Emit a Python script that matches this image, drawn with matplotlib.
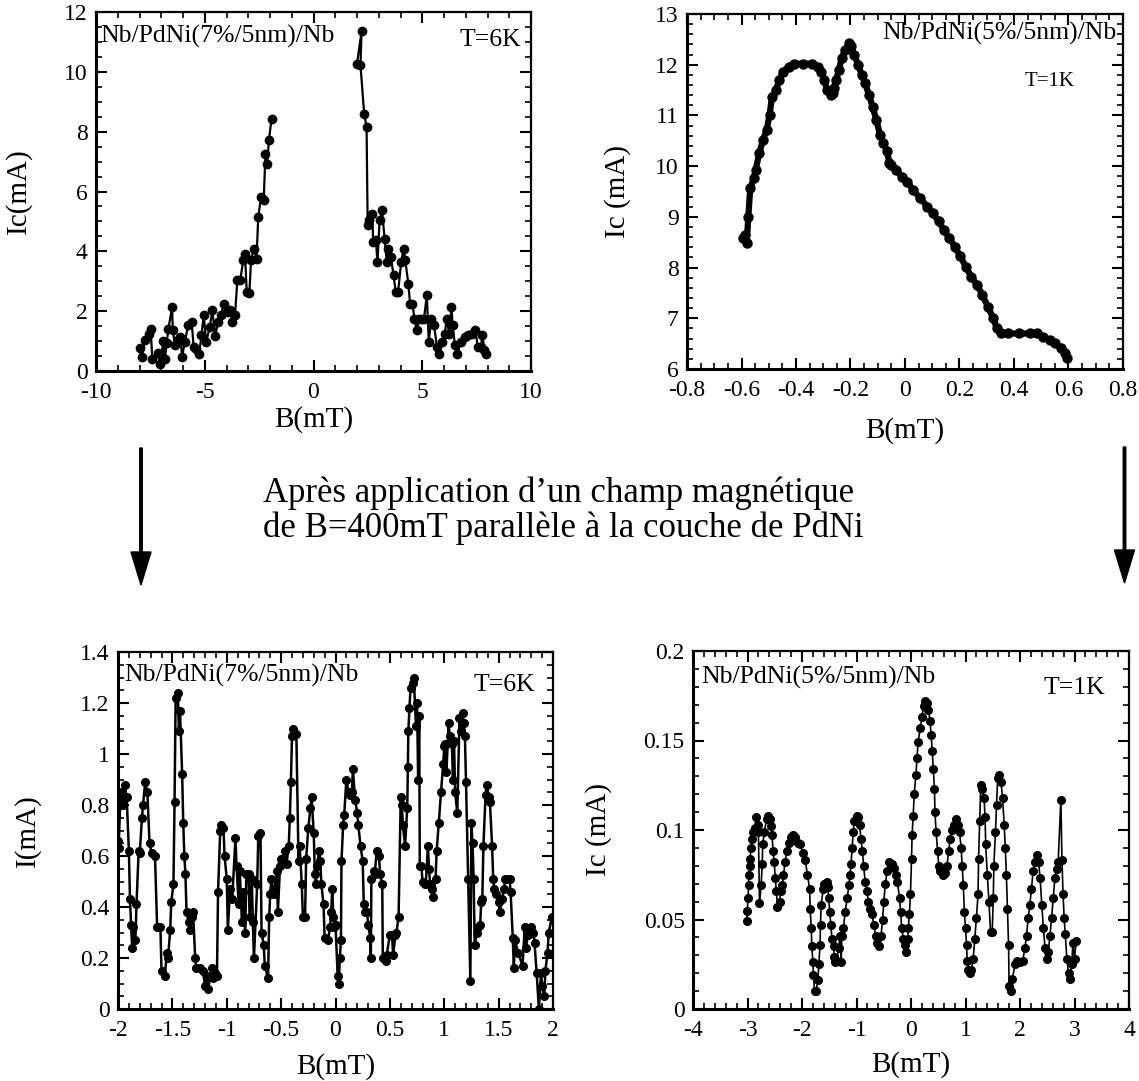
import matplotlib
matplotlib.use('Agg')
from matplotlib import pyplot as plt
from matplotlib.patches import FancyArrow
from matplotlib.ticker import MultipleLocator, FuncFormatter

plt.rcParams['font.family'] = ['Liberation Serif', 'DejaVu Serif']
plt.rcParams['axes.unicode_minus'] = False

# --- panel 1 : Nb/PdNi(7%/5nm)/Nb, T=6K, before ---
B1_neg = [-7.99, -7.9, -7.74, -7.57, -7.49, -7.41, -7.16, -7.05, -7.0, -6.9,
          -6.83, -6.75, -6.67, -6.5, -6.47, -6.37, -6.25, -6.12, -6.04, -5.92,
          -5.76, -5.6, -5.51, -5.38, -5.26, -5.15, -5.05, -4.93, -4.77, -4.65,
          -4.52, -4.39, -4.27, -4.11, -3.98, -3.86, -3.73, -3.61, -3.5, -3.37,
          -3.23, -3.15, -3.07, -2.95, -2.87, -2.74, -2.62, -2.54, -2.41, -2.29,
          -2.21, -2.13, -2.05, -1.93]
Ic1_neg = [0.78, 0.47, 1.05, 1.25, 1.42, 0.41, 0.6, 0.25, 0.52, 1.0,
           0.41, 0.94, 1.42, 2.14, 1.36, 0.86, 1.03, 1.14, 0.47, 0.97,
           1.53, 1.64, 0.8, 0.75, 0.58, 1.19, 1.86, 0.97, 1.47, 2.03,
           1.16, 1.64, 1.86, 2.25, 1.97, 2.03, 1.64, 1.86, 3.03, 3.03,
           3.7, 3.92, 2.64, 2.6, 3.7, 4.09, 3.75, 5.15, 5.82, 5.7,
           7.26, 6.93, 7.71, 8.43]
B1_pos = [2.0, 2.21, 2.16, 2.33, 2.44, 2.49, 2.57, 2.71, 2.74, 2.87,
          2.94, 3.04, 3.15, 3.27, 3.37, 3.43, 3.56, 3.68, 3.78, 3.89,
          4.03, 4.14, 4.22, 4.36, 4.44, 4.55, 4.64, 4.75, 4.85, 4.97,
          5.08, 5.21, 5.3, 5.41, 5.54, 5.68, 5.79, 5.91, 6.04, 6.12,
          6.24, 6.34, 6.4, 6.5, 6.62, 6.78, 6.95, 7.11, 7.28, 7.44,
          7.56, 7.69, 7.77, 7.85, 7.94]
Ic1_pos = [10.27, 11.35, 10.22, 8.6, 8.16, 4.87, 5.04, 5.26, 4.31, 4.37,
           3.64, 5.04, 5.37, 4.42, 3.64, 4.09, 3.81, 3.2, 2.64, 2.64,
           3.64, 4.09, 3.7, 2.92, 2.25, 2.25, 1.75, 1.36, 1.75, 1.75,
           1.75, 2.53, 0.97, 1.75, 1.53, 0.8, 0.58, 0.97, 1.25, 1.75,
           1.25, 2.14, 1.53, 0.86, 0.58, 0.97, 1.14, 1.19, 1.25, 1.36,
           0.8, 0.8, 1.19, 0.69, 0.58]

# --- panel 2 : Nb/PdNi(5%/5nm)/Nb, T=1K, before ---
B2 = [-0.595, -0.588, -0.581, -0.575, -0.568, -0.555, -0.548, -0.535, -0.521, -0.508,
      -0.497, -0.488, -0.474, -0.461, -0.448, -0.427, -0.407, -0.374, -0.34, -0.32,
      -0.307, -0.296, -0.286, -0.273, -0.266, -0.26, -0.253, -0.242, -0.233, -0.219,
      -0.206, -0.197, -0.186, -0.172, -0.159, -0.146, -0.132, -0.119, -0.105, -0.092,
      -0.079, -0.065, -0.058, -0.052, -0.032, -0.011, 0.009, 0.029, 0.056, 0.082,
      0.103, 0.123, 0.143, 0.163, 0.183, 0.203, 0.223, 0.243, 0.264, 0.284,
      0.304, 0.324, 0.337, 0.351, 0.377, 0.418, 0.458, 0.485, 0.505, 0.532,
      0.552, 0.572, 0.586, 0.595]
Ic2 = [8.58, 8.64, 8.48, 9.0, 9.56, 9.76, 9.93, 10.25, 10.52, 10.71,
       11.01, 11.37, 11.5, 11.7, 11.86, 11.96, 12.02, 12.02, 12.02, 11.96,
       11.86, 11.7, 11.5, 11.4, 11.44, 11.54, 11.7, 11.9, 12.13, 12.29,
       12.42, 12.36, 12.19, 12.0, 11.8, 11.63, 11.4, 11.17, 10.91, 10.62,
       10.45, 10.29, 10.06, 10.02, 9.93, 9.79, 9.69, 9.53, 9.37, 9.2,
       9.07, 8.91, 8.74, 8.58, 8.41, 8.22, 8.02, 7.82, 7.66, 7.46,
       7.23, 7.0, 6.8, 6.7, 6.7, 6.7, 6.7, 6.7, 6.64, 6.57,
       6.51, 6.41, 6.31, 6.21]

# --- panel 3 : Nb/PdNi(7%/5nm)/Nb, T=6K, after 400mT ---
B3 = [-2.0, -1.995, -1.98, -1.97, -1.95, -1.94, -1.92, -1.9, -1.89, -1.88,
      -1.87, -1.86, -1.84, -1.83, -1.81, -1.8, -1.78, -1.77, -1.75, -1.73,
      -1.71, -1.69, -1.66, -1.64, -1.61, -1.6, -1.57, -1.55, -1.54, -1.52,
      -1.51, -1.49, -1.48, -1.47, -1.45, -1.44, -1.43, -1.41, -1.4, -1.39,
      -1.38, -1.37, -1.35, -1.34, -1.32, -1.31, -1.29, -1.28, -1.25, -1.22,
      -1.2, -1.18, -1.17, -1.14, -1.13, -1.11, -1.09, -1.08, -1.06, -1.05,
      -1.03, -1.02, -1.0, -0.99, -0.97, -0.95, -0.92, -0.91, -0.89, -0.88,
      -0.86, -0.85, -0.83, -0.82, -0.8, -0.79, -0.77, -0.76, -0.75, -0.72,
      -0.71, -0.69, -0.68, -0.66, -0.65, -0.62, -0.61, -0.6, -0.59, -0.57,
      -0.56, -0.54, -0.53, -0.51, -0.5, -0.46, -0.45, -0.43, -0.42, -0.41,
      -0.4, -0.39, -0.36, -0.34, -0.33, -0.31, -0.3, -0.28, -0.27, -0.25,
      -0.23, -0.22, -0.2, -0.19, -0.18, -0.17, -0.15, -0.14, -0.13, -0.11,
      -0.1, -0.07, -0.05, -0.04, -0.03, -0.02, -0.01, 0.0, 0.02, 0.03,
      0.04, 0.05, 0.055, 0.07, 0.08, 0.1, 0.12, 0.13, 0.15, 0.16,
      0.18, 0.2, 0.21, 0.23, 0.25, 0.26, 0.27, 0.29, 0.3, 0.32,
      0.325, 0.33, 0.35, 0.36, 0.38, 0.4, 0.41, 0.43, 0.435, 0.46,
      0.47, 0.5, 0.52, 0.53, 0.55, 0.56, 0.58, 0.6, 0.61, 0.62,
      0.64, 0.66, 0.665, 0.67, 0.68, 0.69, 0.71, 0.72, 0.74, 0.75,
      0.76, 0.77, 0.775, 0.79, 0.8, 0.82, 0.83, 0.85, 0.86, 0.87,
      0.89, 0.9, 0.92, 0.93, 0.95, 0.97, 0.99, 1.0, 1.01, 1.02,
      1.04, 1.05, 1.07, 1.08, 1.09, 1.1, 1.12, 1.14, 1.15, 1.17,
      1.18, 1.19, 1.2, 1.22, 1.24, 1.25, 1.26, 1.27, 1.28, 1.3,
      1.31, 1.33, 1.34, 1.35, 1.36, 1.38, 1.39, 1.41, 1.42, 1.44,
      1.45, 1.46, 1.48, 1.5, 1.51, 1.53, 1.55, 1.56, 1.57, 1.6,
      1.61, 1.63, 1.64, 1.65, 1.68, 1.72, 1.74, 1.75, 1.77, 1.8,
      1.82, 1.83, 1.85, 1.87, 1.89, 1.9, 1.92, 1.93, 1.95, 1.96,
      1.99, 2.02]
I3 = [0.66, 0.63, 0.8, 0.85, 0.8, 0.88, 0.83, 0.62, 0.43, 0.33,
      0.24, 0.32, 0.27, 0.41, 0.62, 0.61, 0.75, 0.8, 0.89, 0.85,
      0.65, 0.61, 0.6, 0.32, 0.32, 0.15, 0.13, 0.22, 0.2, 0.31,
      0.42, 0.49, 0.81, 1.22, 1.24, 1.09, 1.17, 0.92, 0.73, 0.6,
      0.53, 0.38, 0.34, 0.31, 0.36, 0.38, 0.2, 0.16, 0.16, 0.15,
      0.09, 0.13, 0.08, 0.16, 0.12, 0.14, 0.13, 0.46, 0.7, 0.72,
      0.71, 0.6, 0.51, 0.31, 0.47, 0.43, 0.67, 0.56, 0.41, 0.54,
      0.34, 0.46, 0.3, 0.53, 0.53, 0.36, 0.51, 0.34, 0.2, 0.49,
      0.68, 0.69, 0.3, 0.25, 0.17, 0.12, 0.36, 0.45, 0.51, 0.45,
      0.47, 0.54, 0.38, 0.56, 0.59, 0.62, 0.57, 0.64, 0.75, 0.89,
      1.07, 1.1, 1.08, 0.58, 0.64, 0.49, 0.36, 0.36, 0.59, 0.71,
      0.79, 0.83, 0.69, 0.53, 0.49, 0.56, 0.62, 0.58, 0.49, 0.41,
      0.28, 0.27, 0.32, 0.38, 0.47, 0.36, 0.32, 0.33, 0.13, 0.1,
      0.2, 0.27, 0.58, 0.72, 0.76, 0.9, 0.85, 0.84, 0.85, 0.94,
      0.82, 0.77, 0.72, 0.64, 0.58, 0.41, 0.38, 0.38, 0.33, 0.28,
      0.2, 0.51, 0.54, 0.53, 0.62, 0.6, 0.53, 0.49, 0.2, 0.19,
      0.21, 0.29, 0.29, 0.21, 0.29, 0.3, 0.36, 0.83, 0.8, 0.72,
      0.64, 0.79, 0.95, 1.09, 1.18, 1.26, 1.28, 1.3, 1.11, 1.2,
      0.9, 1.15, 0.56, 0.56, 0.5, 0.49, 0.49, 0.64, 0.55, 0.49,
      0.47, 0.44, 0.51, 0.62, 0.73, 0.85, 0.96, 1.03, 1.04, 0.93,
      1.12, 1.07, 1.04, 0.9, 1.05, 0.85, 0.77, 1.14, 1.09, 1.16,
      1.12, 1.07, 0.89, 0.51, 0.11, 0.73, 0.65, 0.51, 0.25, 0.3,
      0.32, 0.33, 0.42, 0.43, 0.64, 0.84, 0.88, 0.83, 0.81, 0.64,
      0.51, 0.47, 0.45, 0.42, 0.38, 0.43, 0.47, 0.51, 0.51, 0.51,
      0.46, 0.28, 0.16, 0.27, 0.22, 0.17, 0.32, 0.24, 0.29, 0.32,
      0.3, 0.26, 0.14, 0.0, 0.14, 0.09, 0.05, 0.15, 0.22, 0.3,
      0.36, 0.34]

# --- panel 4 : Nb/PdNi(5%/5nm)/Nb, T=1K, after 400mT ---
B4 = [-3.01, -3.005, -2.99, -2.98, -2.975, -2.96, -2.95, -2.94, -2.92, -2.9,
      -2.87, -2.84, -2.81, -2.8, -2.78, -2.75, -2.73, -2.72, -2.69, -2.65,
      -2.63, -2.59, -2.57, -2.55, -2.53, -2.51, -2.49, -2.47, -2.45, -2.41,
      -2.39, -2.36, -2.34, -2.31, -2.28, -2.24, -2.21, -2.17, -2.12, -2.08,
      -2.03, -1.98, -1.94, -1.9, -1.86, -1.85, -1.83, -1.82, -1.8, -1.79,
      -1.77, -1.74, -1.71, -1.69, -1.67, -1.66, -1.65, -1.61, -1.59, -1.55,
      -1.53, -1.51, -1.49, -1.47, -1.45, -1.42, -1.41, -1.39, -1.36, -1.33,
      -1.3, -1.28, -1.27, -1.24, -1.21, -1.17, -1.14, -1.12, -1.1, -1.08,
      -1.06, -1.04, -1.0, -0.97, -0.94, -0.92, -0.89, -0.87, -0.84, -0.81,
      -0.78, -0.75, -0.72, -0.68, -0.65, -0.62, -0.59, -0.55, -0.52, -0.5,
      -0.47, -0.44, -0.41, -0.35, -0.31, -0.28, -0.25, -0.21, -0.19, -0.17,
      -0.14, -0.11, -0.09, -0.06, -0.05, -0.03, -0.01, 0.01, 0.02, 0.04,
      0.06, 0.09, 0.11, 0.13, 0.17, 0.2, 0.23, 0.26, 0.29, 0.32,
      0.35, 0.37, 0.39, 0.41, 0.43, 0.44, 0.46, 0.49, 0.51, 0.53,
      0.58, 0.63, 0.66, 0.69, 0.72, 0.75, 0.79, 0.83, 0.86, 0.89,
      0.92, 0.94, 0.96, 0.98, 1.0, 1.02, 1.03, 1.05, 1.08, 1.11,
      1.14, 1.17, 1.2, 1.23, 1.24, 1.26, 1.28, 1.31, 1.34, 1.36,
      1.37, 1.4, 1.43, 1.46, 1.49, 1.51, 1.52, 1.55, 1.57, 1.59,
      1.62, 1.65, 1.68, 1.71, 1.73, 1.75, 1.77, 1.79, 1.8, 1.83,
      1.86, 1.91, 1.95, 2.0, 2.05, 2.09, 2.12, 2.15, 2.18, 2.21,
      2.24, 2.27, 2.31, 2.34, 2.37, 2.4, 2.43, 2.46, 2.49, 2.52,
      2.55, 2.58, 2.61, 2.64, 2.67, 2.7, 2.75, 2.77, 2.79, 2.81,
      2.83, 2.86, 2.89, 2.92, 2.95, 2.97, 3.0, 3.03]
I4 = [0.049, 0.055, 0.062, 0.069, 0.075, 0.08, 0.084, 0.09, 0.095, 0.099,
      0.101, 0.107, 0.103, 0.099, 0.059, 0.069, 0.081, 0.092, 0.099, 0.106,
      0.108, 0.106, 0.102, 0.097, 0.088, 0.082, 0.073, 0.066, 0.057, 0.06,
      0.066, 0.069, 0.075, 0.082, 0.088, 0.093, 0.096, 0.097, 0.096, 0.093,
      0.092, 0.087, 0.083, 0.075, 0.067, 0.056, 0.045, 0.035, 0.026, 0.019,
      0.01, 0.01, 0.016, 0.025, 0.036, 0.047, 0.058, 0.067, 0.07, 0.071,
      0.068, 0.062, 0.054, 0.047, 0.039, 0.035, 0.029, 0.026, 0.027, 0.034,
      0.041, 0.026, 0.041, 0.045, 0.054, 0.062, 0.069, 0.075, 0.081, 0.09,
      0.099, 0.105, 0.108, 0.107, 0.103, 0.095, 0.088, 0.08, 0.071, 0.066,
      0.06, 0.056, 0.053, 0.047, 0.041, 0.037, 0.035, 0.041, 0.05, 0.06,
      0.07, 0.077, 0.082, 0.081, 0.079, 0.075, 0.071, 0.062, 0.054, 0.045,
      0.039, 0.036, 0.032, 0.039, 0.045, 0.053, 0.064, 0.084, 0.097, 0.108,
      0.12, 0.131, 0.14, 0.149, 0.157, 0.163, 0.169, 0.172, 0.171, 0.167,
      0.161, 0.153, 0.144, 0.134, 0.123, 0.11, 0.099, 0.088, 0.08, 0.077,
      0.075, 0.076, 0.08, 0.088, 0.095, 0.1, 0.103, 0.106, 0.103, 0.099,
      0.09, 0.08, 0.069, 0.054, 0.045, 0.036, 0.027, 0.022, 0.02, 0.022,
      0.028, 0.039, 0.051, 0.064, 0.084, 0.105, 0.125, 0.123, 0.118, 0.107,
      0.092, 0.075, 0.06, 0.043, 0.043, 0.062, 0.08, 0.099, 0.114, 0.129,
      0.131, 0.127, 0.118, 0.103, 0.09, 0.075, 0.056, 0.036, 0.013, 0.01,
      0.017, 0.025, 0.027, 0.026, 0.027, 0.034, 0.041, 0.051, 0.058, 0.067,
      0.077, 0.082, 0.086, 0.082, 0.073, 0.058, 0.045, 0.034, 0.028, 0.032,
      0.041, 0.051, 0.062, 0.073, 0.078, 0.082, 0.117, 0.083, 0.064, 0.051,
      0.042, 0.028, 0.02, 0.017, 0.025, 0.037, 0.028, 0.038]

W, H = 1139, 1081
fig = plt.figure(figsize=(W / 100, H / 100), dpi=100)


def box(x0, y0, x1, y1):
    # pixel box (top-left origin) -> figure fraction
    return [x0 / W, 1 - y1 / H, (x1 - x0) / W, (y1 - y0) / H]


def style(ax, xlim, ylim, xmaj, xmin, ymaj, ymin):
    ax.set_xlim(*xlim)
    ax.set_ylim(*ylim)
    ax.xaxis.set_major_locator(MultipleLocator(xmaj))
    ax.xaxis.set_minor_locator(MultipleLocator(xmin))
    ax.yaxis.set_major_locator(MultipleLocator(ymaj))
    ax.yaxis.set_minor_locator(MultipleLocator(ymin))
    fmt = FuncFormatter(lambda v, p: '%g' % round(v, 6))
    ax.xaxis.set_major_formatter(fmt)
    ax.yaxis.set_major_formatter(fmt)
    ax.tick_params(which='both', direction='in', top=True, right=True, labelsize=17)
    ax.tick_params(which='major', length=8, width=1.5)
    ax.tick_params(which='minor', length=4, width=1.2)
    ax.tick_params(axis='x', which='major', pad=8)
    ax.tick_params(axis='y', which='major', pad=6)
    for s in ['left', 'bottom']:
        ax.spines[s].set_linewidth(2.2)
    for s in ['top', 'right']:
        ax.spines[s].set_linewidth(1.6)


ax1 = fig.add_axes(box(96, 12, 531, 371))
ax1.plot(B1_neg, Ic1_neg, '-o', color='k', lw=1.6, ms=6)
ax1.plot(B1_pos, Ic1_pos, '-o', color='k', lw=1.6, ms=6)
style(ax1, (-10, 10), (0, 12), 5, 1, 2, 0.5)
ax1.set_xlabel('B(mT)', fontsize=21, va='center')
ax1.set_ylabel('Ic(mA)', fontsize=21, va='center')
ax1.xaxis.set_label_coords(0.5, -0.136)
ax1.yaxis.set_label_coords(-0.179, 0.5)
ax1.text(0.009, 0.933, 'Nb/PdNi(7%/5nm)/Nb', transform=ax1.transAxes,
         fontsize=18.5, ha='left', va='center')
ax1.text(0.977, 0.922, 'T=6K', transform=ax1.transAxes,
         fontsize=18.5, ha='right', va='center')

ax2 = fig.add_axes(box(687, 14, 1123, 369))
ax2.plot(B2, Ic2, '-o', color='k', lw=4.5, ms=6.5)
style(ax2, (-0.8, 0.8), (6, 13), 0.2, 0.05, 1, 0.2)
ax2.set_xlabel('B(mT)', fontsize=21, va='center')
ax2.set_ylabel('Ic (mA)', fontsize=21, va='center')
ax2.xaxis.set_label_coords(0.5, -0.172)
ax2.yaxis.set_label_coords(-0.16, 0.5)
ax2.text(0.986, 0.944, 'Nb/PdNi(5%/5nm)/Nb', transform=ax2.transAxes,
         fontsize=18.5, ha='right', va='center')
ax2.text(0.89, 0.811, 'T=1K', transform=ax2.transAxes,
         fontsize=15, ha='right', va='center')

ax3 = fig.add_axes(box(118, 652, 553, 1009))
ax3.plot(B3, I3, '-o', color='k', lw=1.8, ms=5.5)
style(ax3, (-2, 2), (0, 1.4), 0.5, 0.1, 0.2, 0.05)
ax3.set_xlabel('B(mT)', fontsize=21, va='center')
ax3.set_ylabel('I(mA)', fontsize=21, va='center')
ax3.xaxis.set_label_coords(0.5, -0.162)
ax3.yaxis.set_label_coords(-0.209, 0.5)
ax3.text(0.014, 0.933, 'Nb/PdNi(7%/5nm)/Nb', transform=ax3.transAxes,
         fontsize=18.5, ha='left', va='center')
ax3.text(0.959, 0.908, 'T=6K', transform=ax3.transAxes,
         fontsize=18.5, ha='right', va='center')

ax4 = fig.add_axes(box(693, 651, 1129, 1009))
ax4.plot(B4, I4, '-o', color='k', lw=1.2, ms=5.5)
style(ax4, (-4, 4), (0, 0.2), 1, 0.2, 0.05, 0.01)
ax4.set_xlabel('B(mT)', fontsize=21, va='center')
ax4.set_ylabel('Ic (mA)', fontsize=21, va='center')
ax4.xaxis.set_label_coords(0.5, -0.156)
ax4.yaxis.set_label_coords(-0.216, 0.5)
ax4.text(0.018, 0.925, 'Nb/PdNi(5%/5nm)/Nb', transform=ax4.transAxes,
         fontsize=18.5, ha='left', va='center')
ax4.text(0.945, 0.897, 'T=1K', transform=ax4.transAxes,
         fontsize=18.5, ha='right', va='center')

# middle caption and arrows
fig.text(263 / W, 1 - 502 / H, 'Après application d’un champ magnétique',
         fontsize=25, ha='left', va='baseline')
fig.text(263 / W, 1 - 537 / H, 'de B=400mT parallèle à la couche de PdNi',
         fontsize=25, ha='left', va='baseline')

for xa, ytop, ytip in [(141, 448, 585), (1124.5, 447, 583)]:
    arr = FancyArrow(xa / W, 1 - ytop / H, 0, -(ytip - ytop) / H,
                     width=2.5 / W, head_width=20 / W, head_length=33 / H,
                     length_includes_head=True, color='k', transform=fig.transFigure)
    fig.add_artist(arr)

fig.savefig('out.png', dpi=100)
